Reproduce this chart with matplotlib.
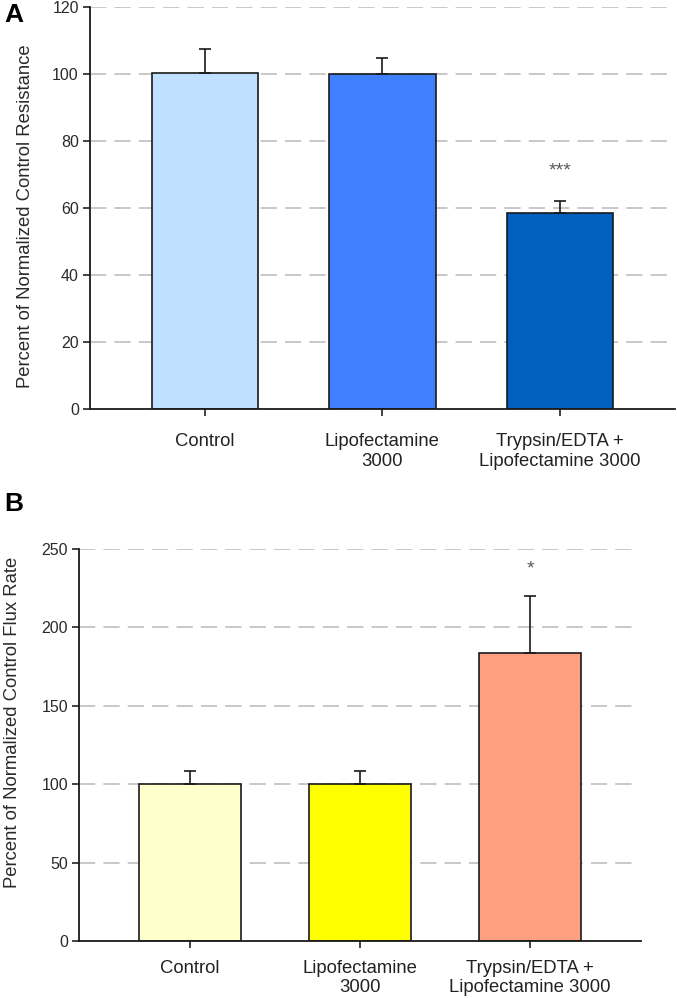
import matplotlib
matplotlib.use("Agg")
import matplotlib.pyplot as plt
import numpy as np

plt.rcParams['font.family'] = ['Liberation Sans', 'DejaVu Sans']

categories = ["Control", "Lipofectamine\n3000", "Trypsin/EDTA +\nLipofectamine 3000"]

# Panel A
resistance = [100.4, 100.0, 58.4]
resistance_err = [7.0, 4.8, 3.6]
colors_a = ["#C0E0FF", "#4080FF", "#0060C0"]
sig_a = ["", "", "***"]
sig_a_y = [None, None, 72.5]
yticks_a = [0, 20, 40, 60, 80, 100, 120]

# Panel B
flux = [100.0, 100.0, 183.8]
flux_err = [8.5, 8.3, 36.1]
colors_b = ["#FFFFCC", "#FFFF00", "#FFA080"]
sig_b = ["", "", "*"]
sig_b_y = [None, None, 238.5]
yticks_b = [0, 50, 100, 150, 200, 250]

fig = plt.figure(figsize=(6.77, 9.99), dpi=100)

def draw(ax, vals, errs, colors, sig, sig_y, yticks, ylabel, grid_end, sig_dy,
         lab_xy, xpad, lsp):
    x = np.arange(len(vals))
    ax.set_axisbelow(True)
    for yv in yticks[1:]:
        ax.axhline(yv, xmin=0, xmax=grid_end, color="#C4C4C4", lw=1.3,
                   ls=(0, (9, 4.5)), zorder=0)
    ax.bar(x, vals, width=0.6, color=colors, edgecolor="#1a1a1a", linewidth=1.2, zorder=2)
    ax.errorbar(x, vals, yerr=[np.zeros(len(errs)), errs], fmt="none", ecolor="#1a1a1a",
                elinewidth=1.2, capsize=4.6, capthick=1.2, zorder=3)
    for xi, s, sy in zip(x, sig, sig_y):
        if s:
            ax.text(xi, sy - sig_dy, s, ha="center", va="center", fontsize=14,
                    color="#5a5a5a")
    ax.set_xlim(-0.65, 2.65)
    ax.set_ylim(yticks[0], yticks[-1])
    ax.set_yticks(yticks)
    ax.set_xticks(x)
    ax.set_xticklabels(categories, fontsize=13.3, color="#2a2a2a", linespacing=lsp)
    ax.tick_params(axis="both", direction="out", length=5, width=1.2,
                   colors="#222222")
    ax.tick_params(axis="y", labelsize=11.5, labelcolor="#2a2a2a", pad=3)
    ax.tick_params(axis="x", pad=xpad)
    for sp in ["top", "right"]:
        ax.spines[sp].set_visible(False)
    for sp in ["left", "bottom"]:
        ax.spines[sp].set_linewidth(1.3)
        ax.spines[sp].set_color("#1a1a1a")
    ax.set_ylabel(ylabel, fontsize=13.3, color="#2a2a2a")
    ax.yaxis.set_label_coords(*lab_xy)

ax_a = fig.add_axes([0.1329, 0.5906, 0.864, 0.4024])
draw(ax_a, resistance, resistance_err, colors_a, sig_a, sig_a_y, yticks_a,
     "Percent of Normalized Control Resistance", 1.0, 1.5, (-0.095, 0.48), 12, 1.25)

ax_b = fig.add_axes([0.1167, 0.058, 0.830, 0.3924])
draw(ax_b, flux, flux_err, colors_b, sig_b, sig_b_y, yticks_b,
     "Percent of Normalized Control Flux Rate", 0.986, 1.5, (-0.104, 0.559), 8.5, 1.15)

fig.text(0.006, 0.997, "A", fontsize=19, fontweight="bold", va="top", ha="left")
fig.text(0.006, 0.508, "B", fontsize=19, fontweight="bold", va="top", ha="left")

fig.savefig("out.png", dpi=100)
